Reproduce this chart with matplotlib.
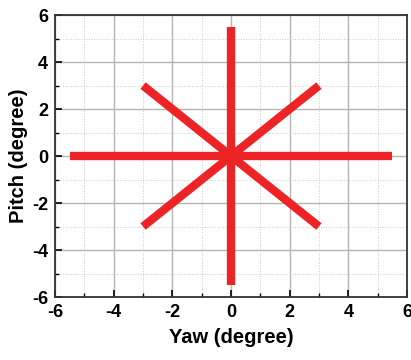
import matplotlib
matplotlib.use("Agg")
import matplotlib.pyplot as plt
from matplotlib.ticker import MultipleLocator

plt.rcParams["font.family"] = ["Liberation Sans", "DejaVu Sans"]
plt.rcParams["font.weight"] = "bold"
plt.rcParams["axes.unicode_minus"] = False

# scan paths (yaw, pitch) endpoints in degrees
yaw_h = [-5.5, 5.5]
pitch_h = [0, 0]
yaw_v = [0, 0]
pitch_v = [-5.5, 5.5]
yaw_d1 = [-3, 3]
pitch_d1 = [-3, 3]
yaw_d2 = [-3, 3]
pitch_d2 = [3, -3]

red = "#EE2326"

fig = plt.figure(figsize=(4.11, 3.6), dpi=100)
ax = fig.add_axes([0.134, 0.175, 0.856, 0.783])

for xs, ys in [(yaw_h, pitch_h), (yaw_v, pitch_v), (yaw_d1, pitch_d1), (yaw_d2, pitch_d2)]:
    ax.plot(xs, ys, color=red, lw=6.0, solid_capstyle="butt", zorder=3)

ax.set_xlim(-6, 6)
ax.set_ylim(-6, 6)
ax.xaxis.set_major_locator(MultipleLocator(2))
ax.yaxis.set_major_locator(MultipleLocator(2))
ax.xaxis.set_minor_locator(MultipleLocator(1))
ax.yaxis.set_minor_locator(MultipleLocator(1))
ax.grid(which="major", color="#b4b4b4", lw=1.0, ls="-", zorder=0)
ax.grid(which="minor", color="#c8c8c8", lw=0.7, ls=":", zorder=0)
ax.set_axisbelow(True)

ax.tick_params(which="major", direction="in", length=5, width=1.2, labelsize=13, pad=5)
ax.tick_params(which="minor", direction="in", length=3, width=1.0)
for lab in ax.get_xticklabels() + ax.get_yticklabels():
    lab.set_fontweight("bold")
for s in ax.spines.values():
    s.set_linewidth(1.3)
    s.set_color("#333333")

ax.set_xlabel("Yaw (degree)", fontsize=14.5, fontweight="bold", labelpad=5)
ax.set_ylabel("Pitch (degree)", fontsize=14.5, fontweight="bold", labelpad=3)

fig.savefig("out.png", dpi=100)
